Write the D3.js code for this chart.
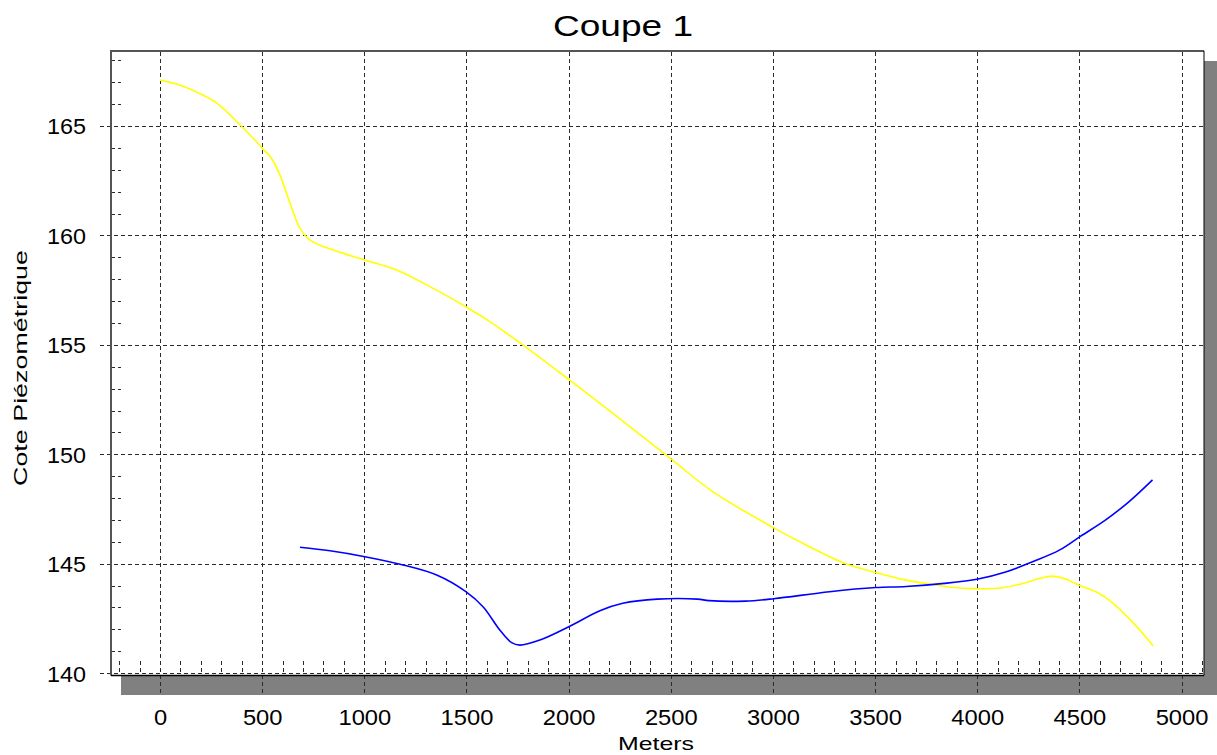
<!DOCTYPE html>
<html>
<head>
<meta charset="utf-8">
<script src="https://cdn.jsdelivr.net/npm/d3@7"></script>
<style>
  html, body { margin: 0; padding: 0; background: #fff; }
  svg { display: block; font-family: "Liberation Sans", Arial, sans-serif; }
</style>
</head>
<body>
<svg id="chart" width="1217" height="755"></svg>
<script>
// ---- data ----
const title = "Coupe 1";
const xLabel = "Meters";
const yLabel = "Cote Piézométrique";

const xTicks = [0, 500, 1000, 1500, 2000, 2500, 3000, 3500, 4000, 4500, 5000];
const yTicks = [140, 145, 150, 155, 160, 165];

const yellowX = [0, 98, 196, 278, 391, 502, 546, 587, 636, 685, 734, 848, 1001, 1158, 1337, 1497, 1614, 1777, 2001, 2217, 2498, 2707, 3002, 3146, 3352, 3503, 3652, 3765, 3877, 3971, 4121, 4215, 4308, 4364, 4421, 4505, 4589, 4664, 4758, 4861];
const yellowY = [167.10, 166.87, 166.48, 166.05, 165.06, 163.98, 163.52, 162.76, 161.48, 160.32, 159.79, 159.33, 158.88, 158.42, 157.58, 156.74, 156.06, 154.99, 153.42, 151.87, 149.81, 148.28, 146.65, 145.93, 145.01, 144.6, 144.25, 144.07, 143.92, 143.86, 143.9, 144.07, 144.33, 144.43, 144.33, 143.99, 143.68, 143.2, 142.35, 141.25];

const blueX = [685, 832, 1003, 1190, 1354, 1497, 1582, 1663, 1721, 1761, 1859, 2001, 2153, 2265, 2434, 2631, 2687, 2865, 3004, 3277, 3503, 3652, 3839, 4004, 4139, 4271, 4402, 4505, 4627, 4745, 4858];
const blueY = [145.75, 145.59, 145.32, 144.94, 144.48, 143.72, 143.02, 141.97, 141.39, 141.28, 141.51, 142.12, 142.85, 143.19, 143.38, 143.38, 143.31, 143.29, 143.4, 143.72, 143.91, 143.96, 144.1, 144.30, 144.62, 145.09, 145.62, 146.25, 146.99, 147.85, 148.83];

// ---- layout ----
const L = 111, R = 1204, T = 51, B = 675.5;
const svg = d3.select("#chart");

const x = d3.scaleLinear().domain([-240, 5110]).range([L, R]);
const y = d3.scaleLinear().domain([139.89, 168.43]).range([B, T]);

// shadow + plot background
svg.append("rect").attr("x", L + 10).attr("y", T + 10).attr("width", R - L + 10).attr("height", B - T + 9.5).attr("fill", "#808080");
svg.append("rect").attr("x", L).attr("y", T).attr("width", R - L).attr("height", B - T).attr("fill", "#fff");

const dash = "4,3";

// vertical gridlines (extend below plot)
const gx = svg.append("g").attr("transform", `translate(0,693)`)
  .call(d3.axisBottom(x).tickValues(xTicks).tickSize(-(693 - T)).tickFormat(""));
gx.select(".domain").remove();
gx.selectAll("line").attr("stroke", "#2a2a2a").attr("stroke-dasharray", dash).attr("shape-rendering", "crispEdges");

// horizontal gridlines (extend left of plot)
const gy = svg.append("g").attr("transform", `translate(100,0)`)
  .call(d3.axisLeft(y).tickValues(yTicks).tickSize(-(R - 100)).tickFormat(""));
gy.select(".domain").remove();
gy.selectAll("line").attr("stroke", "#2a2a2a").attr("stroke-dasharray", dash).attr("shape-rendering", "crispEdges");

// minor x ticks (inside, along bottom)
const minorX = d3.range(-200, 5101, 100).filter(v => v % 500 !== 0);
const mx = svg.append("g").attr("transform", `translate(0,672)`)
  .call(d3.axisBottom(x).tickValues(minorX).tickSize(-11).tickFormat(""));
mx.select(".domain").remove();
mx.selectAll("line").attr("stroke", "#2a2a2a").attr("stroke-dasharray", "4,3").attr("shape-rendering", "crispEdges");

// minor y ticks (inside, along left)
const minorY = d3.range(141, 169, 1).filter(v => v % 5 !== 0);
const my = svg.append("g").attr("transform", `translate(${L},0)`)
  .call(d3.axisLeft(y).tickValues(minorY).tickSize(-10).tickFormat(""));
my.select(".domain").remove();
my.selectAll("line").attr("stroke", "#2a2a2a").attr("stroke-dasharray", "4,3").attr("shape-rendering", "crispEdges");

// series
const line = d3.line().x(d => x(d[0])).y(d => y(d[1])).curve(d3.curveCatmullRom.alpha(0.5));
svg.append("path").datum(yellowX.map((v, i) => [v, yellowY[i]]))
  .attr("d", line).attr("fill", "none").attr("stroke", "#ffff00").attr("stroke-width", 1.6);
svg.append("path").datum(blueX.map((v, i) => [v, blueY[i]]))
  .attr("d", line).attr("fill", "none").attr("stroke", "#0000ff").attr("stroke-width", 1.6);

// frame
svg.append("line").attr("x1", L).attr("x2", R).attr("y1", T).attr("y2", T).attr("stroke", "#555").attr("stroke-width", 2);
svg.append("line").attr("x1", L).attr("x2", L).attr("y1", T - 1).attr("y2", B).attr("stroke", "#555").attr("stroke-width", 2);
svg.append("line").attr("x1", L).attr("x2", R).attr("y1", B).attr("y2", B).attr("stroke", "#000").attr("stroke-width", 1.5);
svg.append("line").attr("x1", R).attr("x2", R).attr("y1", T).attr("y2", B).attr("stroke", "#000").attr("stroke-width", 1);

// tick labels
const xl = svg.append("g").attr("transform", `translate(0,${B})`)
  .call(d3.axisBottom(x).tickValues(xTicks).tickSize(0).tickFormat(d3.format("d")));
xl.select(".domain").remove();
xl.selectAll("text").attr("y", 49.5).attr("dy", 0)
  .attr("font-size", 22).attr("fill", "#000").attr("font-family", "Liberation Sans, Arial, sans-serif")
  .attr("textLength", d => String(d).length * 13.2).attr("lengthAdjust", "spacingAndGlyphs");

const yl = svg.append("g").attr("transform", `translate(100,0)`)
  .call(d3.axisLeft(y).tickValues(yTicks).tickSize(0).tickFormat(d3.format("d")));
yl.select(".domain").remove();
yl.selectAll("text").attr("x", -14).attr("dy", "0.36em")
  .attr("font-size", 22).attr("fill", "#000").attr("font-family", "Liberation Sans, Arial, sans-serif")
  .attr("textLength", d => String(d).length * 13.0).attr("lengthAdjust", "spacingAndGlyphs");

// title and axis titles
svg.append("text").attr("x", 623).attr("y", 36).attr("text-anchor", "middle")
  .attr("font-size", 30).attr("textLength", 140).attr("lengthAdjust", "spacingAndGlyphs").text(title);
svg.append("text").attr("x", 656).attr("y", 750).attr("text-anchor", "middle")
  .attr("font-size", 19).attr("textLength", 76).attr("lengthAdjust", "spacingAndGlyphs").text(xLabel);
svg.append("text").attr("transform", "translate(27,368) rotate(-90)").attr("text-anchor", "middle")
  .attr("font-size", 19).attr("textLength", 236).attr("lengthAdjust", "spacingAndGlyphs").text(yLabel);
</script>
</body>
</html>
